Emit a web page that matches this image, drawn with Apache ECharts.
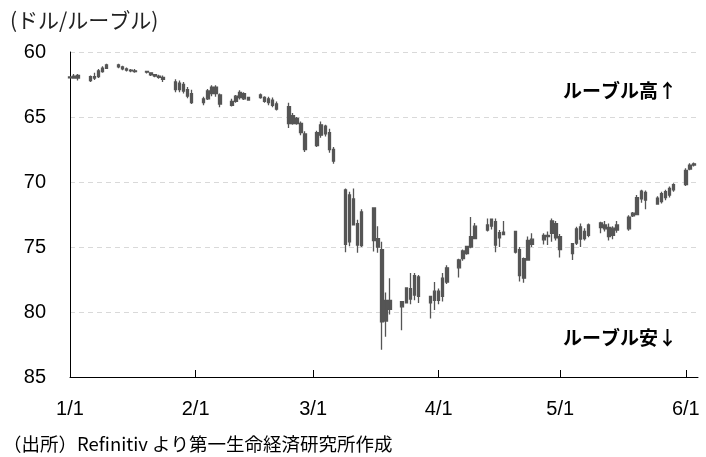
<!DOCTYPE html>
<html>
<head>
    <meta charset="UTF-8">
    <title>ルーブル相場</title>
    <script src="https://cdn.jsdelivr.net/npm/echarts@6.0.0/dist/echarts.min.js"></script>
    <style>
        body { margin: 0; padding: 0; background: #fff; }
        #chart { width: 706px; height: 457px; }
    </style>
</head>
<body>
<div id="chart"></div>
<script>
// 日次ローソク足 [日, 始値, 終値, 安値, 高値] (ドル/ルーブル, 2020年)
const jan = [
    [1, 61.92, 61.98, 61.9, 62.0], [2, 61.85, 62.0, 61.7, 62.05], [3, 62.0, 61.8, 61.7, 62.2],
    [6, 62.2, 61.9, 61.8, 62.3], [7, 61.9, 62.0, 61.6, 62.15], [8, 61.9, 61.45, 61.3, 62.0],
    [9, 61.5, 61.25, 61.1, 61.6], [10, 61.25, 61.0, 60.9, 61.3], [13, 61.0, 61.15, 60.9, 61.25],
    [14, 61.15, 61.3, 61.05, 61.4], [15, 61.3, 61.4, 61.2, 61.5], [16, 61.4, 61.45, 61.3, 61.55],
    [17, 61.45, 61.5, 61.3, 61.6], [20, 61.5, 61.55, 61.45, 61.65], [21, 61.6, 61.75, 61.55, 61.85],
    [22, 61.75, 61.85, 61.7, 61.95], [23, 61.85, 61.95, 61.75, 62.05], [24, 61.95, 62.1, 61.8, 62.3],
    [27, 62.3, 62.9, 62.1, 63.1], [28, 62.9, 62.4, 62.2, 63.1], [29, 62.5, 63.0, 62.3, 63.2],
    [30, 62.9, 63.4, 62.7, 63.55], [31, 63.2, 63.9, 62.9, 64.0]
];
const feb = [
    [3, 63.9, 63.6, 63.45, 64.1], [4, 63.6, 63.0, 62.85, 63.7], [5, 63.2, 62.7, 62.55, 63.4],
    [6, 62.7, 63.2, 62.55, 63.45], [7, 63.3, 64.0, 63.2, 64.25], [10, 64.1, 63.8, 63.6, 64.2],
    [11, 63.8, 63.4, 63.3, 63.9], [12, 63.5, 63.1, 62.95, 63.65], [13, 63.2, 63.6, 63.1, 63.7],
    [14, 63.5, 63.7, 63.45, 63.75], [17, 63.3, 63.5, 63.2, 63.6], [18, 63.5, 63.8, 63.4, 63.9],
    [19, 63.6, 63.9, 63.45, 64.1], [20, 63.7, 64.1, 63.5, 64.25], [21, 64.0, 64.4, 63.8, 64.5],
    [24, 64.2, 65.5, 63.9, 65.85], [25, 65.5, 64.9, 64.7, 65.6], [26, 65.1, 65.5, 65.0, 65.6],
    [27, 65.5, 66.2, 65.35, 66.4], [28, 66.3, 67.5, 66.1, 67.7]
];
const mar = [
    [2, 67.2, 66.2, 66.05, 67.3], [3, 66.4, 65.6, 65.35, 66.6], [4, 65.7, 66.3, 65.6, 66.5],
    [5, 66.2, 67.5, 65.9, 67.75], [6, 67.5, 68.4, 67.3, 68.6], [9, 70.6, 74.8, 70.5, 75.4],
    [10, 74.6, 71.0, 70.75, 74.95], [11, 71.3, 73.3, 70.5, 73.35], [12, 73.2, 74.85, 72.9, 75.45],
    [13, 74.9, 72.3, 72.1, 75.0], [16, 72.0, 74.5, 71.95, 75.35], [17, 74.35, 75.0, 73.4, 75.45],
    [18, 75.2, 80.75, 74.6, 82.9], [19, 80.7, 79.1, 78.5, 81.9], [20, 79.8, 79.1, 77.4, 80.2],
    [23, 79.2, 79.6, 79.2, 81.4], [24, 79.3, 78.15, 78.1, 79.35], [25, 79.0, 78.2, 77.0, 79.4],
    [26, 78.7, 77.2, 77.0, 79.1], [27, 77.3, 78.8, 77.15, 79.3], [30, 78.8, 79.3, 78.8, 80.5],
    [31, 79.1, 78.4, 77.7, 79.85]
];
const apr = [
    [1, 78.4, 79.1, 78.2, 79.4], [2, 78.8, 77.4, 77.0, 79.2], [3, 77.7, 76.6, 76.4, 77.85],
    [6, 76.6, 76.0, 75.9, 77.35], [7, 75.9, 75.3, 75.2, 76.05], [8, 75.5, 74.95, 74.9, 75.6],
    [9, 75.0, 74.2, 72.7, 75.1], [10, 74.35, 73.4, 73.15, 74.4], [13, 73.7, 73.3, 72.8, 73.8],
    [14, 73.4, 72.85, 72.8, 73.65], [15, 73.05, 74.85, 72.8, 75.4], [16, 74.3, 73.9, 73.7, 75.0],
    [17, 74.05, 73.85, 73.0, 74.1], [20, 73.8, 75.4, 73.75, 75.5], [21, 75.2, 77.2, 75.0, 77.65],
    [22, 77.4, 75.9, 75.8, 77.75], [23, 76.0, 74.5, 74.2, 76.05], [24, 74.4, 74.8, 73.95, 75.0],
    [27, 74.45, 74.1, 73.95, 74.8], [28, 74.1, 74.2, 73.8, 74.85], [29, 73.95, 73.0, 72.8, 74.6],
    [30, 73.2, 74.3, 73.0, 74.5]
];
const may = [
    [1, 74.2, 75.2, 74.0, 75.8], [4, 75.5, 74.75, 74.7, 76.0], [5, 74.7, 73.6, 73.45, 74.85],
    [6, 73.45, 74.4, 73.2, 75.0], [7, 74.35, 73.8, 73.55, 74.5], [8, 74.1, 73.3, 73.2, 74.25],
    [11, 73.5, 73.15, 73.05, 73.95], [12, 73.3, 73.6, 73.0, 73.8], [13, 73.5, 74.2, 73.2, 74.5],
    [14, 74.1, 73.55, 73.4, 74.4], [15, 73.7, 73.3, 73.0, 73.9], [18, 73.6, 72.7, 72.55, 73.75],
    [19, 72.6, 72.4, 72.3, 72.7], [20, 72.5, 71.2, 71.0, 72.55], [21, 71.3, 70.7, 70.6, 71.6],
    [22, 70.8, 71.4, 70.65, 72.1], [25, 71.7, 71.25, 71.1, 71.75], [26, 71.5, 70.9, 70.75, 71.65],
    [27, 70.75, 71.2, 70.6, 71.4], [28, 71.0, 70.5, 70.35, 71.2], [29, 70.6, 70.2, 70.1, 70.75]
];
const jun = [
    [1, 70.2, 69.1, 68.95, 70.3], [2, 69.0, 68.7, 68.55, 69.1], [3, 68.7, 68.6, 68.5, 68.8]
];

const yTicks = [60, 65, 70, 75, 80, 85];

// 暦日ベースのカテゴリ (1/1〜6/4)
const DAY = 86400000;
const t0 = Date.UTC(2020, 0, 1);
const dayLabels = [];
for (let i = 0; i < 156; i++) {
    const d = new Date(t0 + i * DAY);
    dayLabels.push((d.getUTCMonth() + 1) + '/' + d.getUTCDate());
}

const candles = [];
[jan, feb, mar, apr, may, jun].forEach((rows, m) => {
    rows.forEach(r => {
        const idx = Math.round((Date.UTC(2020, m, r[0]) - t0) / DAY);
        candles.push([idx, r[1], r[2], r[3], r[4]]);
    });
});

const isMonthStart = (i, v) => /\/1$/.test(v);
const gray = '#555555';
const numFont = '"Liberation Sans", Arial, sans-serif';
const jpFont = '"Noto Sans CJK JP", sans-serif';

const chart = echarts.init(document.getElementById('chart'));
chart.setOption({
    animation: false,
    grid: { left: 70, right: 8, top: 52, bottom: 80 },
    xAxis: {
        type: 'category',
        data: dayLabels,
        boundaryGap: false,
        axisLine: { lineStyle: { color: '#000', width: 1 } },
        axisTick: { inside: true, length: 7, interval: isMonthStart, lineStyle: { color: '#000' } },
        axisLabel: {
            interval: isMonthStart,
            color: '#000', fontSize: 20, fontFamily: numFont, margin: 22
        },
        splitLine: { show: false }
    },
    yAxis: {
        type: 'value',
        inverse: true,
        min: yTicks[0], max: yTicks[yTicks.length - 1], interval: 5,
        axisLine: { show: true, lineStyle: { color: '#000', width: 1 } },
        axisTick: { show: false },
        axisLabel: { color: '#000', fontSize: 20, fontFamily: numFont, margin: 24 },
        splitLine: { lineStyle: { color: '#d9d9d9', type: [5, 4], width: 1 } }
    },
    series: [{
        type: 'candlestick',
        data: candles,
        encode: { x: 0, y: [1, 2, 3, 4] },
        barWidth: 3,
        itemStyle: {
            color: gray, color0: gray,
            borderColor: gray, borderColor0: gray, borderColorDoji: gray,
            borderWidth: 1.3
        }
    }],
    graphic: [
        { type: 'text', left: 10, top: 10, style: { text: '(ドル/ルーブル)', fill: '#222', font: '21px ' + jpFont } },
        { type: 'text', left: 563, top: 81, style: { text: 'ルーブル高↑', fill: '#000', font: 'bold 19px ' + jpFont } },
        { type: 'text', left: 563, top: 328, style: { text: 'ルーブル安↓', fill: '#000', font: 'bold 19px ' + jpFont } },
        { type: 'text', left: 3, top: 435, style: { text: '（出所）Refinitiv より第一生命経済研究所作成', fill: '#000', font: '18.5px ' + jpFont } }
    ]
});
</script>
</body>
</html>
